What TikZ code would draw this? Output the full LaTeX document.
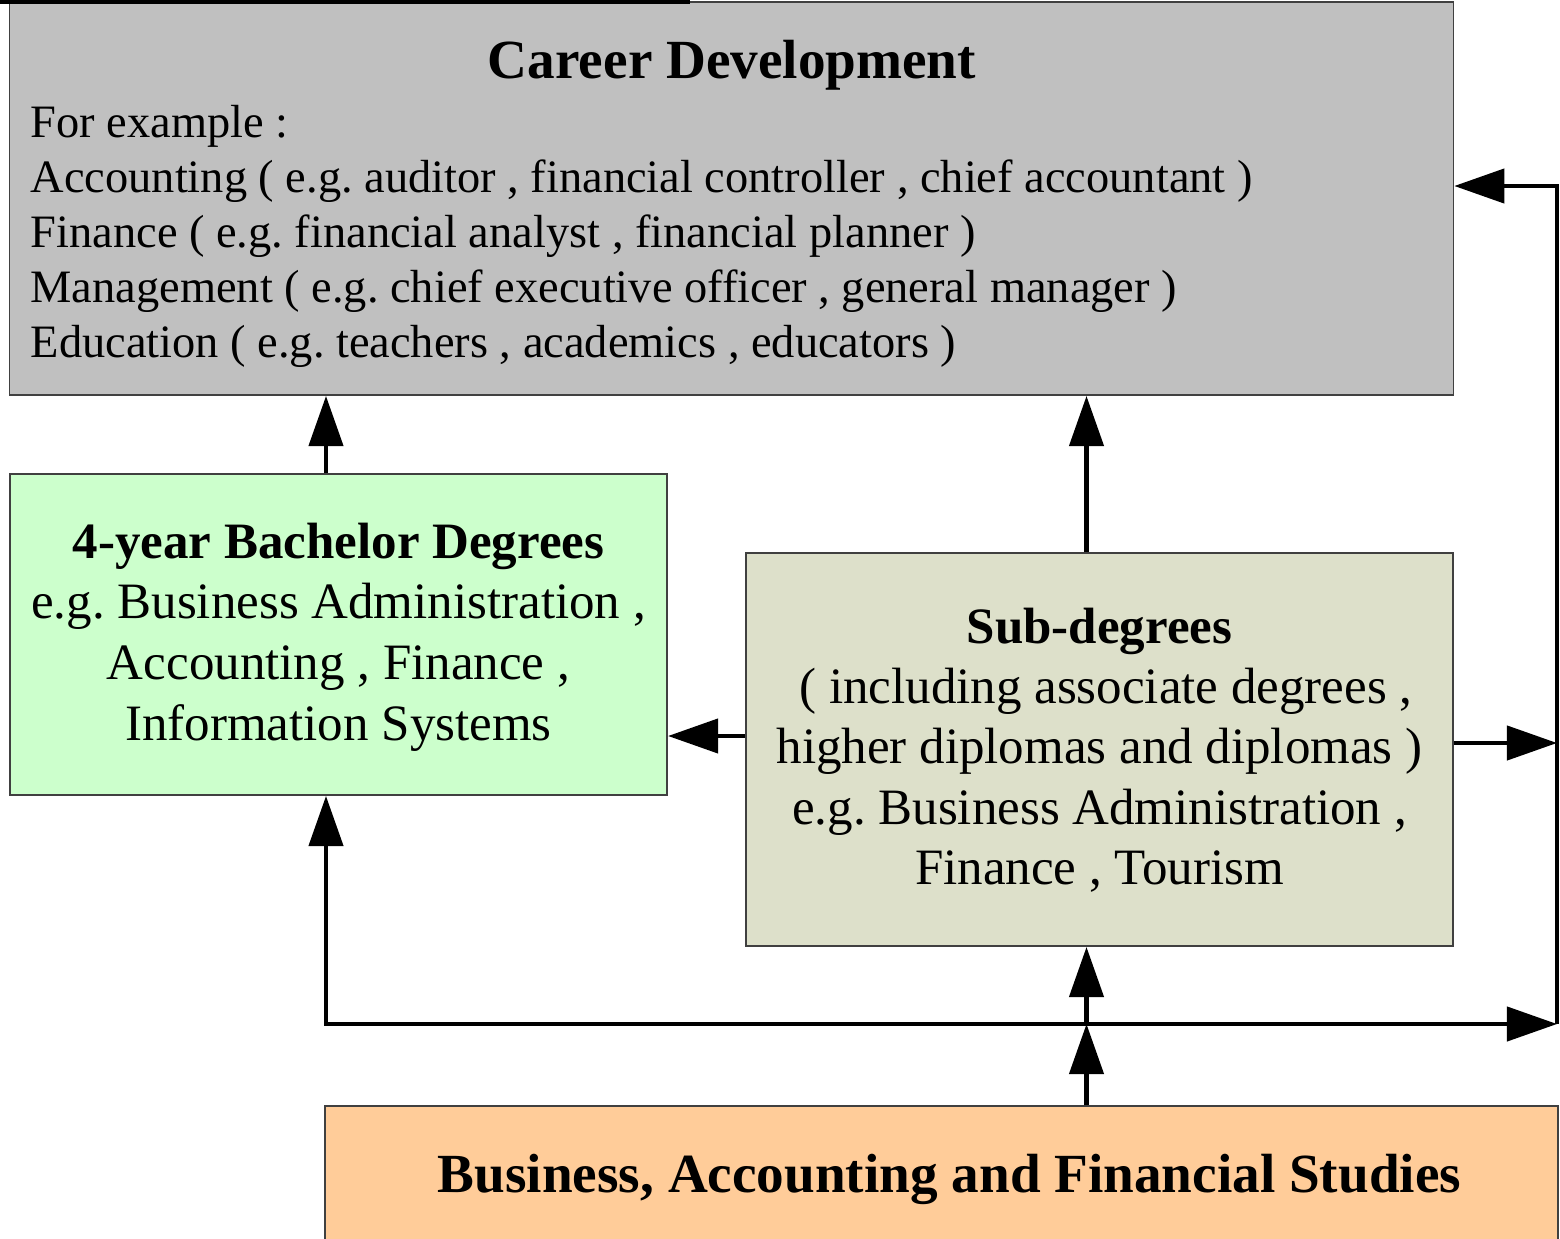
\documentclass[tikz,border=0pt]{standalone}
\usepackage{fontspec}
\setmainfont{Liberation Serif}
\usetikzlibrary{arrows.meta,positioning}
\frenchspacing
\definecolor{careergray}{HTML}{C0C0C0}
\definecolor{bachgreen}{HTML}{CCFFCC}
\definecolor{subolive}{HTML}{DDE0CA}
\definecolor{studyorange}{HTML}{FFCC99}
\tikzset{
  box/.style={draw=black!75, line width=0.5pt, inner sep=0pt},
  flow/.style={line width=0.042cm, -{Triangle[length=0.5cm,width=0.34cm]}},
  flowboth/.style={line width=0.042cm, {Triangle[length=0.5cm,width=0.34cm]}-{Triangle[length=0.5cm,width=0.34cm]}},
  txt/.style={anchor=base, inner sep=0pt, font=\fontsize{14.5}{17}\selectfont},
}
\begin{document}
\begin{tikzpicture}[x=0.01cm, y=-0.01cm]
\path[use as bounding box, clip] (0,0) rectangle (1560,1239);
% boxes
\node[box, fill=careergray, minimum width=14.43cm, minimum height=3.93cm] (career) at (731.5,198.5) {};
\node[box, fill=bachgreen, minimum width=6.57cm, minimum height=3.21cm] (bach) at (338.5,634.5) {};
\node[box, fill=subolive, minimum width=7.07cm, minimum height=3.93cm] (sub) at (1099.5,749.5) {};
\node[box, fill=studyorange, minimum width=12.33cm, minimum height=1.54cm] (study) at (941.5,1183) {};
\draw[line width=0.04cm] (0,2) -- (690,2);
% texts
\node[txt, font=\fontsize{15.7}{18}\selectfont\bfseries] (careertitle) at (732,78) {Career Development};
\foreach \line [count=\i] in {{For example :},
  {Accounting ( e.g. auditor , financial controller , chief accountant )},
  {Finance ( e.g. financial analyst , financial planner )},
  {Management ( e.g. chief executive officer , general manager )},
  {Education ( e.g. teachers , academics , educators )}}
  \node[txt, anchor=base west, font=\fontsize{13.2}{15}\selectfont] (careerline\i) at (30,{137+55*(\i-1)}) {\line};
\node[txt, font=\fontsize{14.5}{17}\selectfont\bfseries] (bachtitle) at (338.5,558) {4-year Bachelor Degrees};
\foreach \line [count=\i] in {{e.g. Business Administration ,},
  {Accounting , Finance ,}, {Information Systems}}
  \node[txt] (bachline\i) at (338.5,{618+61*(\i-1)}) {\line};
\node[txt, font=\fontsize{14.5}{17}\selectfont\bfseries] (subtitle) at (1099.5,643) {Sub-degrees};
\foreach \line [count=\i] in {{~( including associate degrees ,},
  {higher diplomas and diplomas )}, {e.g. Business Administration ,},
  {Finance , Tourism}}
  \node[txt] (subline\i) at (1099.5,{703+60.5*(\i-1)}) {\line};
\node[txt, font=\fontsize{15.7}{18}\selectfont\bfseries] (studytitle) at (949.5,1192) {Business, Accounting and Financial Studies};
% connectors
\coordinate (corner) at (326,1024);
\coordinate (hub) at (1086.5,1024);
\coordinate (rail) at (1557,1024);
\coordinate (railtop) at (1557,186);
\draw[flow] (bach.north -| corner) -- (career.south -| corner);
\draw[flow] (sub.north -| hub) -- (career.south -| hub);
\draw[flow] ([yshift=0.135cm]sub.west) -- ([yshift=0.135cm]sub.west -| bach.east);
\draw[flow] ([yshift=0.065cm]sub.east) -- ([yshift=0.065cm]sub.east -| rail);
\draw[flow] (study.north -| hub) -- (hub);
\draw[flow] (hub) -- (sub.south -| hub);
\draw[flowboth] (bach.south -| corner) -- (corner) -- (rail);
\draw[flow] (rail) -- (railtop) -- (railtop -| career.east);
\end{tikzpicture}
\end{document}
